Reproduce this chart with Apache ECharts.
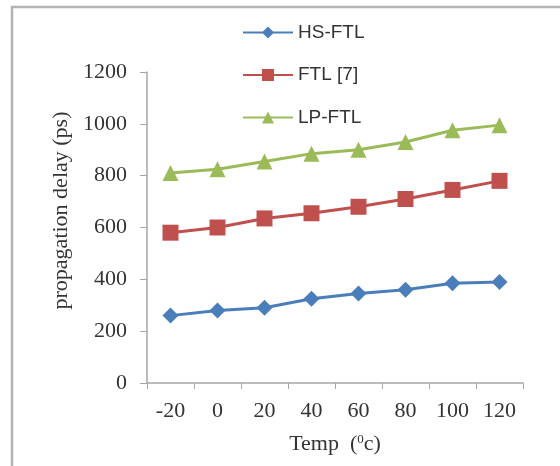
<!DOCTYPE html>
<html>
<head>
<meta charset="utf-8">
<script src="https://cdn.jsdelivr.net/npm/echarts@6/dist/echarts.min.js"></script>
<style>html,body{margin:0;padding:0;background:#fff}#c{width:560px;height:466px}</style>
</head>
<body>
<div id="c"></div>
<script>
var categories = ['-20', '0', '20', '40', '60', '80', '100', '120'];
var seriesNames = ['HS-FTL', 'FTL [7]', 'LP-FTL'];
var hsFtl = [260, 280, 290, 325, 345, 360, 385, 390];
var ftl7 = [580, 600, 635, 655, 680, 710, 745, 780];
var lpFtl = [810, 825, 855, 885, 900, 930, 975, 995];
var yTicks = [0, 200, 400, 600, 800, 1000, 1200];

var chart = echarts.init(document.getElementById('c'), null, {renderer: 'canvas'});
var serif = '"Liberation Serif", "Times New Roman", serif';
var sans = '"Liberation Sans", Arial, sans-serif';
var axisGray = '#a6a6a6';
var txt = '#333333';

function mkSeries(name, data, color, symbol) {
  return {
    name: name, type: 'line', data: data,
    symbol: symbol, symbolSize: 16,
    lineStyle: {color: color, width: 3},
    itemStyle: {color: color},
    emphasis: {disabled: true},
    animation: false
  };
}

chart.setOption({
  animation: false,
  backgroundColor: '#fff',
  graphic: [{
    type: 'rect', silent: true,
    shape: {x: 12, y: 7, width: 700, height: 600},
    style: {fill: 'none', stroke: '#b3b3b3', lineWidth: 2.5}
  }],
  legend: {
    orient: 'vertical', left: 237, top: 18, itemGap: 23.5,
    itemWidth: 50, itemHeight: 15,
    textStyle: {fontFamily: sans, fontSize: 19, color: txt},
    data: seriesNames
  },
  grid: {left: 147, right: 37, top: 72, bottom: 83},
  xAxis: {
    type: 'category', data: categories, boundaryGap: true,
    axisLine: {lineStyle: {color: axisGray, width: 1.5}},
    axisTick: {show: true, length: 6, lineStyle: {color: axisGray}},
    axisLabel: {fontFamily: serif, fontSize: 22, color: txt, margin: 17},
    name: '{n|Temp  (}{s|0}{n|c)}',
    nameLocation: 'middle', nameGap: 50,
    nameTextStyle: {
      rich: {
        n: {fontFamily: serif, fontSize: 22, color: txt},
        s: {fontFamily: serif, fontSize: 13, color: txt, verticalAlign: 'top', padding: [0,0,8,0]}
      }
    },
    splitLine: {show: false}
  },
  yAxis: {
    type: 'value', min: 0, max: 1200, interval: 200,
    axisLine: {show: true, lineStyle: {color: axisGray, width: 1.5}},
    axisTick: {show: true, length: 7, lineStyle: {color: axisGray}},
    axisLabel: {fontFamily: serif, fontSize: 22, color: txt, margin: 20,
      formatter: function (v) { return yTicks.indexOf(v) >= 0 ? String(v) : ''; }},
    splitLine: {show: false},
    name: 'propagation delay (ps)',
    nameLocation: 'middle', nameGap: 74,
    nameTextStyle: {fontFamily: serif, fontSize: 22, color: txt, padding: [0,0,0,34]}
  },
  series: [
    mkSeries(seriesNames[0], hsFtl, '#4a7ebb', 'diamond'),
    mkSeries(seriesNames[1], ftl7, '#c0504d', 'rect'),
    mkSeries(seriesNames[2], lpFtl, '#9bbb59', 'triangle')
  ]
});
</script>
</body>
</html>
